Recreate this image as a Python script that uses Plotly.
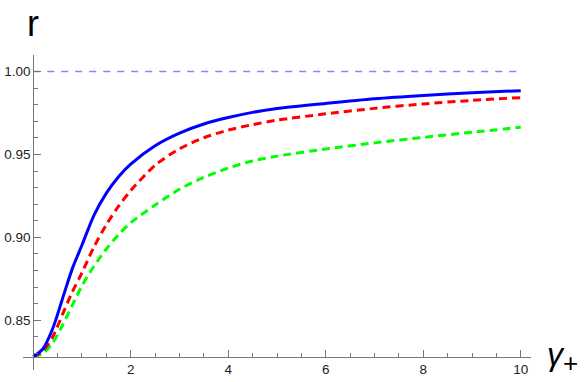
import plotly.graph_objects as go

# data
x_vals = [0, 0.2, 0.4, 0.6, 0.8, 1.0, 1.25, 1.5, 1.75, 2.0, 2.5, 3.0, 3.5, 4.0, 4.5, 5.0,
          6.0, 7.0, 8.0, 9.0, 10]
blue_r = [0.828, 0.8328, 0.845, 0.863, 0.881, 0.8954, 0.9136, 0.9267, 0.9366, 0.9442, 0.9553,
          0.9629, 0.9684, 0.9723, 0.9754, 0.9777, 0.9808, 0.9836, 0.9856, 0.9872, 0.9885]
red_r = [0.828, 0.8315, 0.840, 0.8535, 0.867, 0.8787, 0.8945, 0.9077, 0.9188, 0.9282, 0.9435,
         0.9534, 0.9601, 0.9647, 0.9680, 0.9707, 0.9745, 0.9778, 0.9805, 0.9826, 0.9843]
green_r = [0.828, 0.830, 0.8365, 0.847, 0.859, 0.8708, 0.8828, 0.8930, 0.9016, 0.9088, 0.9195,
           0.929, 0.9362, 0.9418, 0.9461, 0.9490, 0.9533, 0.9570, 0.9603, 0.9634, 0.9664]
ref_x = [0, 10]
ref_y = [1.0, 1.0]
x_ticks = [2, 4, 6, 8, 10]
y_ticks = [0.85, 0.90, 0.95, 1.00]
y_tick_text = ["0.85", "0.90", "0.95", "1.00"]

fig = go.Figure()
fig.add_trace(go.Scatter(x=ref_x, y=ref_y, mode="lines", hoverinfo="skip",
                         line=dict(color="#8585ff", width=1.5, dash="7px,7px")))
fig.add_trace(go.Scatter(x=x_vals, y=green_r, mode="lines", line_shape="spline",
                         line=dict(color="#00ff00", width=3, dash="8px,5px", smoothing=0.8)))
fig.add_trace(go.Scatter(x=x_vals, y=red_r, mode="lines", line_shape="spline",
                         line=dict(color="#ff0000", width=3, dash="8px,5px", smoothing=0.8)))
fig.add_trace(go.Scatter(x=x_vals, y=blue_r, mode="lines", line_shape="spline",
                         line=dict(color="#0000ff", width=3, smoothing=0.8)))

xr = [-0.21, 10.21]
yr = [0.82, 1.01]
axis_col = "#777777"
axis_font = dict(family="Liberation Sans, Arial, sans-serif", size=13.5, color="#222222")

fig.update_layout(
    width=585, height=382,
    margin=dict(l=23, r=53.5, t=55, b=12.4),
    paper_bgcolor="white", plot_bgcolor="white",
    showlegend=False,
    xaxis=dict(range=xr, showgrid=False, zeroline=False, showline=True, automargin=False,
               linecolor=axis_col, linewidth=1,
               anchor="free", position=(0.828 - yr[0]) / (yr[1] - yr[0]),
               tickmode="array", tickvals=x_ticks, ticktext=[str(v) for v in x_ticks],
               ticks="inside", ticklen=7, tickcolor=axis_col,
               minor=dict(dtick=0.5, tick0=0, ticks="inside", ticklen=4, tickcolor=axis_col,
                          showgrid=False),
               tickfont=axis_font),
    yaxis=dict(range=yr, showgrid=False, zeroline=False, showline=True, automargin=False,
               linecolor=axis_col, linewidth=1,
               anchor="free", position=(0 - xr[0]) / (xr[1] - xr[0]),
               tickmode="array", tickvals=y_ticks, ticktext=y_tick_text,
               ticks="inside", ticklen=7, tickcolor=axis_col,
               minor=dict(dtick=0.01, tick0=0.8, ticks="inside", ticklen=4, tickcolor=axis_col,
                          showgrid=False),
               tickfont=axis_font),
    annotations=[
        dict(text="r", xref="paper", yref="paper", x=0.02, y=1.0, xanchor="center",
             yanchor="bottom", yshift=9, showarrow=False,
             font=dict(family="Liberation Sans, Arial, sans-serif", size=36, color="black")),
        dict(text="<i>γ</i><sub><span style='font-size:26px'>+</span></sub>",
             xref="paper", yref="paper",
             x=1.0, y=(0.828 - yr[0]) / (yr[1] - yr[0]), xanchor="left", yanchor="middle",
             xshift=14, showarrow=False,
             font=dict(family="Liberation Sans, Arial, sans-serif", size=32, color="black")),
    ],
)

fig.write_html("out.html", config={"displayModeBar": False},
               post_script="document.body.style.margin='0';")
